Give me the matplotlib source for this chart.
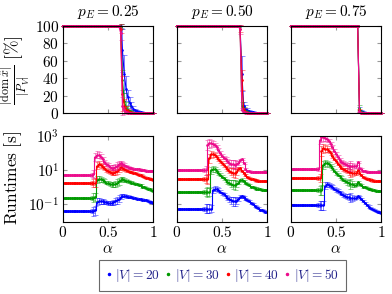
import numpy as np
import matplotlib
matplotlib.use('Agg')
from matplotlib import pyplot as plt
from matplotlib.lines import Line2D

plt.rcParams['mathtext.fontset'] = 'cm'
plt.rcParams['font.family'] = 'serif'
plt.rcParams['font.serif'] = ['DejaVu Serif']

# alpha grid (step 0.02)
alpha = np.round(np.arange(51) * 0.02, 2)
p_labels = ['0.25', '0.50', '0.75']
sizes = [20, 30, 40, 50]
colors = ['#0000ff', '#009a00', '#ff0000', '#ec0c8c']

# |dom x| / |P_V| [%]
dom25_v20 = [100]*33 + [72, 45, 28, 18, 12, 8, 5, 3, 2, 1, 1] + [0]*7
dom25_v30 = [100]*32 + [99, 38, 14, 7, 4, 2, 1] + [0]*12
dom25_v40 = [100]*32 + [97, 22, 8, 4, 2, 1] + [0]*13
dom25_v50 = [100]*32 + [92, 8, 3, 1] + [0]*15
err25_v20 = [0]*32 + [2, 25, 22, 14, 9, 6, 5, 3, 2, 2, 1, 1] + [0]*7
err25_v30 = [0]*32 + [3, 12, 9, 6, 4, 2, 1] + [0]*12
err25_v40 = [0]*32 + [5, 20, 8, 4, 3, 1] + [0]*13
err25_v50 = [0]*32 + [8, 10, 4, 1] + [0]*15

dom50_v20 = [100]*36 + [45, 8, 5, 3, 2, 1, 1] + [0]*8
dom50_v30 = [100]*36 + [8, 4, 2, 1] + [0]*11
dom50_v40 = [100]*35 + [97, 38, 3, 1] + [0]*12
dom50_v50 = [100]*35 + [96, 3, 1] + [0]*13
err50_v20 = [0]*36 + [20, 5, 4, 3, 2, 1, 1] + [0]*8
err50_v30 = [0]*36 + [5, 3, 2, 1] + [0]*11
err50_v40 = [0]*35 + [4, 12, 3, 1] + [0]*12
err50_v50 = [0]*35 + [5, 3, 1] + [0]*13

dom75_v20 = [100]*38 + [4, 2, 1] + [0]*10
dom75_v30 = [100]*38 + [6, 1] + [0]*11
dom75_v40 = [100]*38 + [3] + [0]*12
dom75_v50 = [100]*38 + [1] + [0]*12
err75_v20 = [0]*38 + [3, 2, 1] + [0]*10
err75_v30 = [0]*38 + [3, 1] + [0]*11
err75_v40 = [0]*38 + [2] + [0]*12
err75_v50 = [0]*38 + [1] + [0]*12

# runtimes [s]
rt25_v20 = [0.04]*18 + [0.045, 0.14, 0.16, 0.15, 0.15, 0.14, 0.13, 0.12, 0.12, 0.12, 0.13, 0.15, 0.18,
                        0.22, 0.28, 0.33, 0.32, 0.30, 0.28, 0.27, 0.26, 0.25, 0.24, 0.22, 0.21, 0.20,
                        0.19, 0.18, 0.17, 0.16, 0.14, 0.13, 0.12]
rt25_v30 = [0.25]*18 + [0.27, 2.8, 3.2, 3.0, 2.6, 2.2, 1.9, 1.7, 1.6, 1.5, 1.5, 1.6, 1.8, 2.2, 2.8, 3.0,
                        2.7, 2.4, 2.2, 2.0, 1.9, 1.8, 1.6, 1.5, 1.4, 1.3, 1.1, 1.0, 0.9, 0.8, 0.75, 0.7, 0.6]
rt25_v40 = [1.8]*18 + [1.9, 18, 22, 20, 16, 13, 10, 8.5, 7.5, 7, 7, 7.5, 9, 12, 15, 14, 12, 10, 9, 8,
                       7.5, 7, 6.5, 6, 5.5, 5, 4.5, 4, 3.7, 3.4, 3.2, 3.0, 2.8]
rt25_v50 = [5.5]*17 + [6, 60, 80, 75, 60, 45, 32, 24, 19, 16, 14, 14, 15, 18, 22, 26, 24, 20, 17, 15,
                       14, 13, 12.5, 12, 11.5, 11, 10.5, 10, 9.8, 9.5, 9.2, 9, 8.7, 8.5]

rt50_v20 = [0.056]*20 + [0.7, 0.85, 0.8, 0.7, 0.55, 0.45, 0.38, 0.3, 0.25, 0.2, 0.17, 0.15, 0.15, 0.16,
                         0.2, 0.28, 0.3, 0.26, 0.22, 0.18, 0.15, 0.12, 0.1, 0.085, 0.07, 0.06, 0.05,
                         0.045, 0.04, 0.037, 0.035]
rt50_v30 = [0.54]*19 + [10, 12, 11, 9, 7, 5.5, 4.2, 3.3, 2.6, 2.1, 1.8, 1.6, 1.4, 1.4, 1.5, 1.9, 2.6,
                        2.8, 2.2, 1.8, 1.5, 1.3, 1.1, 1.0, 0.9, 0.85, 0.8, 0.75, 0.72, 0.7, 0.69, 0.68]
rt50_v40 = [3.1]*18 + [50, 85, 85, 75, 60, 45, 35, 26, 20, 15, 12, 9.5, 8, 7, 6.8, 8, 12, 13, 9, 6.5,
                       5, 4, 3.5, 3.1, 2.9, 2.7, 2.5, 2.4, 2.3, 2.25, 2.2, 2.2, 2.2]
rt50_v50 = [9.8]*17 + [300, 380, 380, 360, 300, 220, 150, 100, 70, 55, 45, 35, 28, 24, 22, 21, 22, 26,
                       38, 45, 25, 12, 9.5, 8.8, 8.3, 8.0, 7.8, 7.6, 7.5, 7.4, 7.4, 7.4, 7.4, 7.4]

rt75_v20 = [0.087]*19 + [1.2, 1.5, 1.4, 1.2, 1.0, 0.85, 0.7, 0.6, 0.5, 0.42, 0.36, 0.32, 0.28, 0.26,
                         0.25, 0.24, 0.24, 0.25, 0.3, 0.28, 0.22, 0.16, 0.12, 0.09, 0.075, 0.065, 0.055,
                         0.048, 0.043, 0.038, 0.035, 0.033]
rt75_v30 = [0.68]*18 + [20, 26, 25, 22, 17, 13, 9.5, 7, 5.5, 4.3, 3.5, 2.8, 2.3, 2.0, 1.8, 1.6, 1.5,
                        1.4, 1.4, 2.0, 1.6, 1.3, 1.1, 1.0, 0.9, 0.82, 0.75, 0.7, 0.66, 0.63, 0.61, 0.6, 0.59]
rt75_v40 = [3.5]*17 + [130, 190, 185, 170, 140, 100, 70, 48, 34, 24, 18, 14, 11.5, 10, 9, 8.2, 7.6,
                       7.2, 7, 7, 10, 6.5, 5, 4.2, 3.6, 3.2, 2.9, 2.7, 2.5, 2.4, 2.3, 2.25, 2.2, 2.2]
rt75_v50 = [12]*16 + [600, 900, 880, 800, 650, 480, 330, 220, 140, 90, 60, 42, 32, 26, 22, 20, 18.5,
                      17.5, 17, 17, 17, 30, 14, 11, 9.5, 8.8, 8.3, 8, 7.8, 7.6, 7.5, 7.4, 7.4, 7.4, 7.4]

# relative spread of runtimes (per panel)
rt_err25 = [0.15]*16 + [0.3, 0.8, 0.8, 0.6, 0.5, 0.4, 0.35, 0.3, 0.3, 0.3, 0.3, 0.35, 0.4, 0.5, 0.6,
                        0.6, 0.4, 0.3, 0.25, 0.25, 0.2] + [0.15]*14
rt_err50 = [0.15]*15 + [0.3, 0.8, 0.9, 0.8, 0.6, 0.45, 0.35, 0.3, 0.3, 0.25, 0.25, 0.25, 0.25, 0.3,
                        0.4, 0.6, 0.8, 0.9, 0.5, 0.3, 0.25, 0.2] + [0.15]*14
rt_err75 = [0.15]*15 + [0.3, 0.8, 0.9, 0.8, 0.6, 0.45, 0.35, 0.3, 0.3, 0.25, 0.25, 0.25, 0.25, 0.25,
                        0.25, 0.3, 0.4, 0.5, 0.9, 0.5, 0.3, 0.25] + [0.15]*14

dom = [[dom25_v20, dom25_v30, dom25_v40, dom25_v50],
       [dom50_v20, dom50_v30, dom50_v40, dom50_v50],
       [dom75_v20, dom75_v30, dom75_v40, dom75_v50]]
dom_err = [[err25_v20, err25_v30, err25_v40, err25_v50],
           [err50_v20, err50_v30, err50_v40, err50_v50],
           [err75_v20, err75_v30, err75_v40, err75_v50]]
rt = [[rt25_v20, rt25_v30, rt25_v40, rt25_v50],
      [rt50_v20, rt50_v30, rt50_v40, rt50_v50],
      [rt75_v20, rt75_v30, rt75_v40, rt75_v50]]
rt_err = [rt_err25, rt_err50, rt_err75]

W, H = 392, 294
fig = plt.figure(figsize=(W/100, H/100), dpi=100)
lefts = [62.7, 176.7, 290.7]
aw = 90.5
fs = 11


def style(ax):
    ax.tick_params(direction='in', length=3, color='#999999', top=True, right=True,
                   labelsize=fs, pad=2.5)
    for s in ax.spines.values():
        s.set_linewidth(0.8)
    ax.set_xlim(0, 1)
    ax.set_xticks([0, 0.5, 1])


for j in range(3):
    # top row
    ax = fig.add_axes([lefts[j]/W, 1-113/H, aw/W, 87/H])
    style(ax)
    for k in range(4):
        y = np.array(dom[j][k], float)
        e = np.array(dom_err[j][k], float)
        ax.errorbar(alpha, y, yerr=e, fmt='none', ecolor=colors[k], alpha=0.5,
                    elinewidth=0.7, capsize=1.8, capthick=0.6, clip_on=False)
        ax.plot(alpha, y, color=colors[k], lw=0.8, marker='.', ms=1.8, clip_on=False)
    ax.set_ylim(0, 100)
    ax.set_yticks([0, 20, 40, 60, 80, 100])
    ax.set_xticklabels([])
    if j == 0:
        ax.set_yticklabels(['$%d$' % v for v in [0, 20, 40, 60, 80, 100]])
    else:
        ax.set_yticklabels([])
    fig.text((lefts[j]+aw/2)/W, 1-12/H, '$p_E = %s$' % p_labels[j], ha='center', va='center',
             fontsize=fs)

    # bottom row
    ax = fig.add_axes([lefts[j]/W, 1-221.5/H, aw/W, 85.5/H])
    style(ax)
    ax.set_yscale('log')
    for k in range(4):
        y = np.array(rt[j][k], float)
        r = np.array(rt_err[j], float)
        ax.errorbar(alpha, y, yerr=[y - y/(1+r), y*r], fmt='none', ecolor=colors[k], alpha=0.5,
                    elinewidth=0.7, capsize=1.8, capthick=0.6)
        ax.plot(alpha, y, color=colors[k], lw=0.8, drawstyle='steps-mid')
        ax.plot(alpha, y, color=colors[k], ls='none', marker='.', ms=1.8)
    ax.set_ylim(1e-2, 1e3)
    ax.set_yticks([1e-1, 1e1, 1e3])
    ax.minorticks_off()
    ax.set_xticklabels(['$0$', '$0.5$', '$1$'])
    if j == 0:
        ax.set_yticklabels(['$10^{-1}$', '$10^{1}$', '$10^{3}$'])
    else:
        ax.set_yticklabels([])
    fig.text((lefts[j]+aw/2)/W, 1-249/H, r'$\alpha$', ha='center', va='center', fontsize=fs)

fig.text(16/W, 1-70/H, r'$\frac{|\mathrm{dom}\,\hat{x}|}{|P_V|}\ [\%]$', rotation=90,
         ha='center', va='center', fontsize=12.5)
fig.text(13/W, 1-178/H, r'$\mathrm{Runtimes\ [s]}$', rotation=90, ha='center', va='center',
         fontsize=12.5)

handles = [Line2D([], [], ls='none', marker='.', ms=3, color=c) for c in colors]
labels = ['$|V| = %d$' % s for s in sizes]
leg = fig.legend(handles, labels, loc='center', bbox_to_anchor=(222.5/W, 1-275.5/H), ncol=4,
                 fontsize=9.6, frameon=True, fancybox=False, edgecolor='#444444',
                 handlelength=0.4, handletextpad=0.3, columnspacing=0.4, borderpad=0.5,
                 labelcolor='#22228a')
leg.get_frame().set_linewidth(0.8)

fig.savefig('out.png', dpi=100)
